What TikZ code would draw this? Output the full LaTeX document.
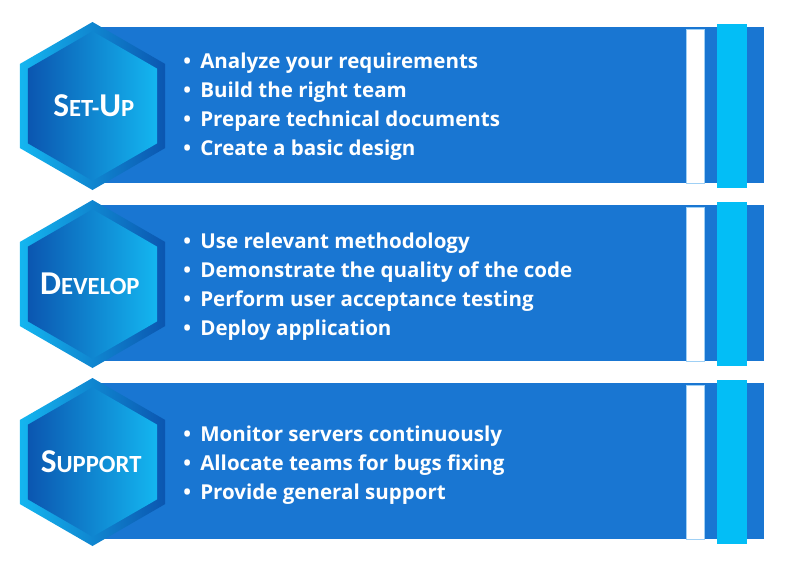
\documentclass[tikz,border=0pt]{standalone}
\usepackage{fontspec}
\setmainfont{Open Sans}
\newfontfamily\hexfont{Carlito}
\usetikzlibrary{shapes.geometric}
\definecolor{bandblue}{HTML}{1976D2}
\definecolor{stripcyan}{HTML}{03BEF6}
\definecolor{stripline}{HTML}{9FD0F5}
\definecolor{hexcyan}{HTML}{14B6F0}
\definecolor{hexdeep}{HTML}{0B56B0}
\newcommand{\bigsc}[2]{{\fontsize{25}{25}\selectfont #1}{\fontsize{18.5}{18.5}\selectfont #2}}
\tikzset{
 every node/.append style={text=white},
 band/.style={fill=bandblue},
 gap/.style={fill=white,draw=stripline,line width=.6pt},
 tab/.style={fill=stripcyan},
 hexouter/.style={regular polygon,regular polygon sides=6,shape border rotate=30,minimum size=126pt,inner sep=0pt,left color=hexcyan,right color=hexdeep},
 hexinner/.style={hexouter,minimum size=112pt,left color=hexdeep,right color=hexcyan},
 phase/.style={font=\hexfont\bfseries,inner sep=0pt},
 steps/.style={anchor=west,align=left,font=\bfseries\fontsize{15.4}{21.75}\selectfont,inner sep=0pt},
}
\begin{document}
\begin{tikzpicture}[x=0.75pt,y=-0.75pt]

\useasboundingbox (0,0) rectangle (800,562);
\foreach \y/\i in {105/1,283/2,461/3} {
  \fill[band] (100,\y-78) rectangle (764,\y+78);
  \filldraw[gap] (686,\y-76) rectangle (704,\y+78);
  \fill[tab] (717,\y-81) rectangle (747,\y+83);
  \node[hexouter] (hexo\i) at (92.5,\y+1) {};
  \node[hexinner] (hexi\i) at (hexo\i) {};
}

\node[phase] (setup) at ([xshift=1pt]hexi1) {\bigsc{S}{ET-}\bigsc{U}{P}};
\node[phase] (develop) at ([xshift=-2pt]hexi2) {\bigsc{D}{EVELOP}};
\node[phase] (support) at ([xshift=-1pt]hexi3) {\bigsc{S}{UPPORT}};

\node[steps] (setuplist) at (183,107) {\textbullet\hspace{7pt}Analyze your requirements\\
  \textbullet\hspace{7pt}Build the right team\\
  \textbullet\hspace{7pt}Prepare technical documents\\
  \textbullet\hspace{7pt}Create a basic design};
\node[steps] (developlist) at (183,287) {\textbullet\hspace{7pt}Use relevant methodology\\
  \textbullet\hspace{7pt}Demonstrate the quality of the code\\
  \textbullet\hspace{7pt}Perform user acceptance testing\\
  \textbullet\hspace{7pt}Deploy application};
\node[steps] (supportlist) at (183,465) {\textbullet\hspace{7pt}Monitor servers continuously\\
  \textbullet\hspace{7pt}Allocate teams for bugs fixing\\
  \textbullet\hspace{7pt}Provide general support};

\end{tikzpicture}
\end{document}
